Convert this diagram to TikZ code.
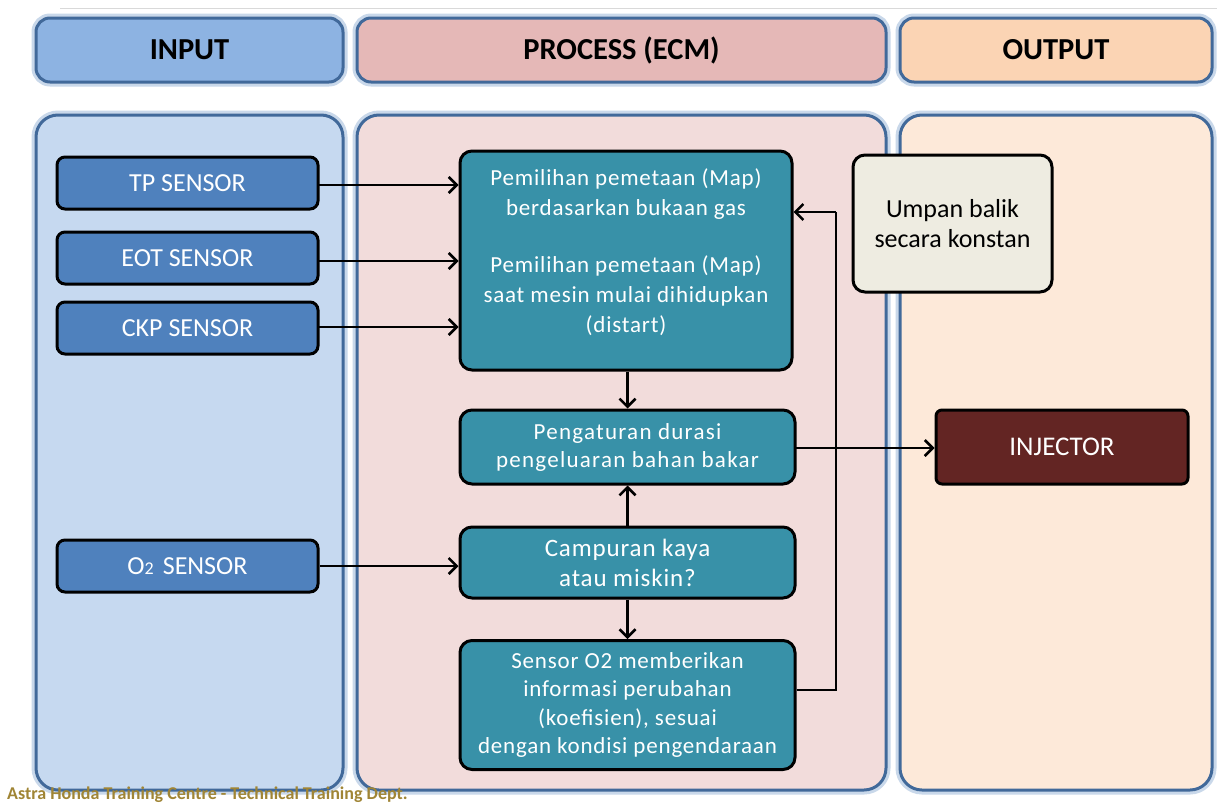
\documentclass[tikz,border=0pt]{standalone}
\usepackage{fontspec}
\setmainfont{Carlito}
\newfontfamily\spaced[LetterSpace=3.5]{Carlito}
\newfontfamily\spacedb[LetterSpace=5.5]{Carlito}
\usetikzlibrary{arrows.meta}
\definecolor{panelline}{HTML}{41699A}
\definecolor{glow}{HTML}{C9D8EA}
\definecolor{hin}{HTML}{8DB3E2}
\definecolor{hpr}{HTML}{E5B8B7}
\definecolor{hout}{HTML}{FBD4B4}
\definecolor{pin}{HTML}{C6D9F0}
\definecolor{ppr}{HTML}{F2DCDB}
\definecolor{pout}{HTML}{FDE9D9}
\definecolor{sensblue}{HTML}{4F81BD}
\definecolor{teal}{HTML}{3891A8}
\definecolor{injred}{HTML}{632523}
\definecolor{cream}{HTML}{EEECE1}
\definecolor{footc}{HTML}{A08535}
\tikzset{
  x=1pt,y=-1pt,
  header/.style={draw=panelline,line width=3pt,rounded corners=14pt,minimum height=64,inner sep=0pt,
     font=\fontsize{30.5}{34}\selectfont\bfseries,text=black},
  panel/.style={draw=panelline,line width=3pt,rounded corners=22pt,minimum height=675,inner sep=0pt},
  sensorbox/.style={draw=black,line width=3pt,rounded corners=8pt,fill=sensblue,text=white,
     minimum width=261,minimum height=52,inner sep=0pt,font=\fontsize{26}{30}\selectfont},
  procbox/.style={draw=black,line width=3pt,rounded corners=12pt,fill=teal,text=white,
     inner sep=0pt,align=center},
  ptext/.style={text=white,inner sep=0pt,align=center,font=\spaced\fontsize{23}{30}\selectfont},
  conn/.style={line width=2.5pt,-{Straight Barb[length=8pt,width=16pt,line width=2.5pt]}},
}
\begin{document}
\begin{tikzpicture}
\useasboundingbox (0,0) rectangle (1217,803);
\fill[white] (0,0) rectangle (1217,803);
\draw[gray!30,line width=1pt] (60,8) -- (1217,8);
% glows
\foreach \cx/\w in {189.5/307,621.5/529,1056/312}{
  \draw[glow,line width=9pt,rounded corners=14pt] (\cx-\w/2,18) rectangle (\cx+\w/2,82);
  \draw[glow,line width=9pt,rounded corners=22pt] (\cx-\w/2,115) rectangle (\cx+\w/2,790);
}
% headers
\node[header,fill=hin,minimum width=307] (hIn) at (189.5,50) {INPUT};
\node[header,fill=hpr,minimum width=529] (hPr) at (621.5,50) {PROCESS (ECM)};
\node[header,fill=hout,minimum width=312] (hOut) at (1056,50) {OUTPUT};
% panels
\node[panel,fill=pin,minimum width=307] (pIn) at (189.5,452.5) {};
\node[panel,fill=ppr,minimum width=529] (pPr) at (621.5,452.5) {};
\node[panel,fill=pout,minimum width=312] (pOut) at (1056,452.5) {};
% sensors
\node[sensorbox] (tp) at (187.5,183) {TP SENSOR};
\node[sensorbox] (eot) at (187.5,258) {EOT SENSOR};
\node[sensorbox] (ckp) at (187.5,328) {CKP SENSOR};
\node[sensorbox] (o2) at (187.5,566) {O{\fontsize{18}{20}\selectfont 2}\hspace{9pt}SENSOR};
% process
\node[procbox,minimum width=332,minimum height=219] (map) at (626,260.5) {};
\node[ptext] (mapText) at (626,252)
  {Pemilihan pemetaan (Map)\\berdasarkan bukaan gas\\[27pt]Pemilihan pemetaan (Map)\\saat mesin mulai dihidupkan\\(distart)};
\node[procbox,minimum width=335,minimum height=74,font=\spacedb\fontsize{23}{28}\selectfont] (peng) at (627.5,447)
  {Pengaturan durasi\\pengeluaran bahan bakar};
\node[procbox,minimum width=335,minimum height=71,font=\spaced\fontsize{25}{30}\selectfont] (camp) at (627.5,562.5)
  {Campuran kaya\\atau miskin?};
\node[procbox,minimum width=335,minimum height=129,font=\spaced\fontsize{23}{28.5}\selectfont] (sens) at (627.5,705)
  {Sensor O2 memberikan\\informasi perubahan\\(koefisien), sesuai\\dengan kondisi pengendaraan};
% output side
\node[draw=black,line width=3pt,rounded corners=12pt,fill=cream,minimum width=199,minimum height=137,
  inner sep=0pt,align=center,font=\fontsize{26}{30}\selectfont] (umpan) at (952.5,223.5)
  {Umpan balik\\secara konstan};
\node[draw=black,line width=3pt,rounded corners=6pt,fill=injred,text=white,minimum width=252,minimum height=74,
  inner sep=0pt,font=\fontsize{27}{30}\selectfont] (inj) at (1062,447) {INJECTOR};
% connectors
\coordinate (a1) at (318,185);
\coordinate (a2) at (318,261);
\coordinate (a3) at (318,327);
\draw[conn] (a1) -- (a1 -| map.west);
\draw[conn] (a2) -- (a2 -| map.west);
\draw[conn] (a3) -- (a3 -| map.west);
\draw[conn] (o2.east) -- (o2.east -| camp.west);
\draw[conn] (map.south -| peng.north) -- (peng.north);
\draw[conn] (camp.north) -- (peng.south);
\draw[conn] (camp.south) -- (sens.north);
\coordinate (fb1) at (836,690);
\coordinate (fb2) at (836,212);
\draw[line width=2.5pt] (fb1 -| sens.east) -- (fb1) -- (fb2);
\draw[conn] (fb2) -- (fb2 -| map.east);
\coordinate (ij) at (795,448);
\draw[conn] (ij) -- (ij -| inj.west);
% footer
\node[anchor=base west,inner sep=0pt,text=footc,font=\fontsize{18}{20}\selectfont\bfseries] (foot) at (7,799.5)
  {Astra Honda Training Centre - Technical Training Dept.};
\end{tikzpicture}
\end{document}
